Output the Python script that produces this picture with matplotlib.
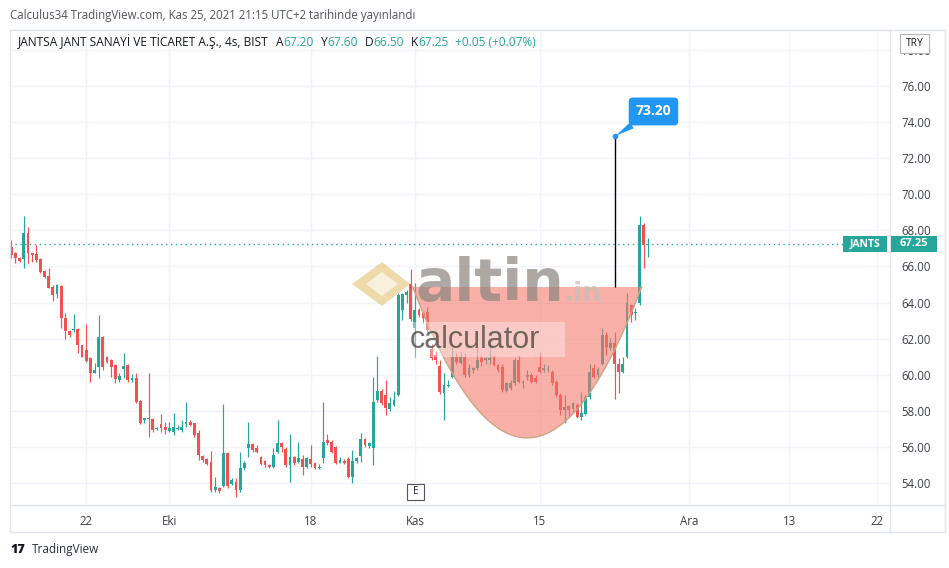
import numpy as np
import matplotlib.pyplot as plt
from matplotlib.patches import Rectangle, Polygon

plt.rcParams['font.family'] = ['Open Sans', 'DejaVu Sans']

W, H = 949, 568

# =========================
# DATA - JANTS 4s mumlar
# =========================
acilis = [67.09, 66.72, 66.48, 66.39, 67.83, 66.72, 66.67, 66.39, 65.74, 65.48,
          64.87, 64.45, 64.91, 63.12, 62.42, 62.46, 62.53, 61.64, 61.36, 60.94,
          60.12, 60.44, 62.10, 60.99, 60.81, 60.53, 59.70, 60.31, 60.53, 59.70,
          59.80, 58.56, 57.50, 57.60, 57.53, 56.98, 57.27, 57.12, 56.90, 56.85,
          57.00, 56.94, 57.25, 57.40, 57.31, 56.75, 55.50, 55.31, 55.18, 53.62,
          53.74, 53.84, 55.65, 53.95, 54.08, 53.62, 54.82, 55.92, 56.16, 55.92,
          55.46, 55.24, 55.00, 54.87, 55.74, 56.20, 55.86, 55.00, 55.42, 55.18,
          55.31, 54.90, 55.31, 55.09, 54.81, 55.36, 56.38, 56.29, 56.01, 55.13,
          55.24, 55.31, 54.35, 55.24, 55.50, 56.42, 56.05, 55.92, 58.60, 59.11,
          58.87, 58.08, 58.32, 58.87, 63.60, 64.41, 65.00, 62.56, 63.58, 63.40,
          63.49, 61.40, 61.10, 60.50, 58.96, 59.37, 59.89, 61.00, 60.66, 60.96,
          59.98, 60.26, 60.35, 60.90, 60.81, 60.81, 61.00, 60.53, 60.44, 59.11,
          59.24, 59.52, 60.81, 59.52, 59.85, 59.98, 59.79, 60.44, 60.26, 60.26,
          60.16, 59.61, 58.87, 58.04, 58.26, 58.08, 58.31, 57.63, 57.85, 58.78,
          60.35, 59.98, 60.62, 62.20, 61.46, 61.73, 60.62, 60.16, 60.99, 63.86,
          63.40, 63.95, 68.29, 67.20]
yuksek = [67.46, 66.80, 66.54, 68.79, 68.20, 66.72, 67.18, 66.45, 65.80, 65.93,
          64.97, 65.00, 64.97, 63.40, 62.47, 63.34, 62.57, 61.64, 62.81, 60.99,
          60.63, 63.30, 62.16, 61.05, 60.87, 60.57, 60.07, 61.18, 60.57, 60.02,
          60.09, 58.60, 57.60, 60.09, 57.60, 57.12, 57.81, 57.40, 57.40, 57.86,
          57.20, 57.49, 58.51, 57.49, 57.35, 56.94, 55.55, 55.37, 55.79, 54.35,
          53.80, 58.36, 55.74, 54.26, 54.26, 55.74, 55.24, 57.40, 56.24, 56.11,
          55.50, 55.28, 55.05, 55.92, 57.49, 56.29, 56.01, 56.71, 55.50, 56.29,
          55.55, 55.46, 56.10, 55.18, 55.05, 58.50, 56.71, 56.38, 56.05, 55.42,
          55.31, 55.46, 55.83, 55.46, 56.75, 56.47, 56.29, 59.90, 61.03, 59.18,
          59.70, 58.78, 59.11, 64.51, 64.50, 64.69, 65.85, 65.06, 63.67, 63.49,
          63.76, 61.70, 61.30, 60.80, 60.07, 59.70, 61.51, 61.18, 61.27, 61.18,
          60.62, 60.44, 61.46, 61.09, 61.00, 61.83, 61.09, 60.62, 60.62, 59.61,
          59.70, 60.90, 61.09, 59.70, 60.26, 60.07, 59.98, 61.27, 60.62, 60.53,
          60.26, 59.70, 59.00, 58.87, 58.31, 58.50, 58.41, 59.05, 58.87, 60.62,
          60.62, 60.44, 62.56, 62.38, 62.01, 62.38, 60.90, 60.99, 64.50, 63.91,
          63.67, 68.79, 68.38, 67.60]
dusuk = [66.45, 66.20, 66.26, 65.93, 66.17, 66.26, 66.26, 65.65, 65.37, 64.78,
         64.08, 64.27, 62.60, 62.00, 62.10, 62.38, 61.18, 60.96, 60.72, 59.61,
         60.07, 59.80, 60.26, 60.63, 59.89, 59.52, 59.61, 59.80, 59.61, 59.61,
         58.45, 57.27, 57.31, 56.57, 56.85, 56.94, 56.85, 56.70, 56.85, 56.66,
         56.94, 56.85, 57.12, 57.16, 56.57, 55.28, 55.18, 55.00, 53.52, 53.52,
         53.47, 53.77, 53.71, 53.89, 53.25, 53.52, 54.72, 55.46, 55.74, 55.65,
         55.00, 54.90, 54.81, 54.81, 55.64, 55.74, 54.90, 54.07, 55.00, 55.13,
         54.44, 54.81, 54.90, 54.76, 54.76, 55.09, 56.10, 55.64, 55.05, 55.09,
         55.05, 54.26, 53.98, 55.09, 55.18, 56.01, 55.92, 55.00, 58.50, 58.32,
         57.77, 58.00, 58.27, 58.80, 63.05, 63.95, 62.95, 61.00, 63.21, 62.84,
         62.38, 60.80, 60.60, 58.95, 57.50, 59.33, 59.79, 60.62, 60.62, 59.89,
         59.89, 60.07, 60.26, 60.48, 60.62, 60.62, 60.48, 60.16, 59.05, 59.05,
         59.15, 59.42, 59.52, 59.24, 59.70, 59.52, 59.52, 60.07, 60.16, 60.16,
         59.42, 58.78, 57.76, 57.30, 57.67, 57.95, 57.58, 57.48, 57.76, 58.68,
         59.79, 59.88, 60.53, 61.09, 61.36, 58.68, 58.96, 60.07, 60.90, 62.93,
         63.03, 63.86, 65.89, 66.50]
kapanis = [66.63, 66.45, 66.30, 67.83, 66.72, 66.63, 66.35, 65.71, 65.43, 64.82,
           64.41, 64.97, 63.12, 62.42, 62.20, 62.53, 61.64, 60.99, 60.76, 60.07,
           60.26, 62.10, 60.44, 60.72, 60.44, 59.76, 59.94, 60.49, 59.70, 59.83,
           58.51, 57.31, 57.58, 57.54, 56.94, 57.03, 57.03, 56.94, 57.07, 57.12,
           57.03, 57.12, 57.40, 57.22, 56.66, 55.55, 55.28, 55.06, 53.62, 53.77,
           53.58, 55.65, 53.84, 54.14, 53.62, 54.82, 55.13, 56.16, 55.83, 55.74,
           55.06, 55.00, 54.87, 55.55, 56.20, 56.01, 55.00, 55.42, 55.13, 55.36,
           54.90, 55.36, 55.05, 54.81, 54.87, 56.29, 56.20, 55.74, 55.13, 55.27,
           55.13, 54.35, 55.24, 55.36, 56.42, 56.10, 56.20, 58.50, 59.11, 58.41,
           58.13, 58.41, 58.60, 64.42, 64.45, 64.60, 63.10, 63.58, 63.30, 63.12,
           62.47, 60.90, 60.80, 59.05, 59.42, 59.42, 61.00, 60.72, 60.96, 59.98,
           60.35, 60.35, 60.81, 60.72, 60.90, 60.90, 60.53, 60.26, 59.15, 59.52,
           59.55, 60.81, 59.61, 59.61, 59.98, 59.61, 59.61, 60.16, 60.35, 60.31,
           59.52, 58.87, 58.04, 58.22, 58.04, 58.44, 57.67, 57.89, 58.78, 60.16,
           59.88, 60.29, 62.20, 61.55, 61.77, 60.62, 60.16, 60.62, 63.95, 63.30,
           63.49, 68.29, 67.18, 67.25]

tarih_etiket = ["22", "Eki", "18", "Kas", "15", "Ara", "13", "22"]
tarih_bar = [18, 38, 72, 97, 127, 163, 187, 208]
fiyat_seviye = [54, 56, 58, 60, 62, 64, 66, 68, 70, 72, 74, 76, 78]

son_fiyat = 67.25
isaret_fiyat = 73.20
isaret_bar = 145
fincan_sol, fincan_sag = 96.5, 151.5
fincan_ust, fincan_dip = 64.86, 56.5

YESIL = '#26a69a'
KIRMIZI = '#ef5350'
CERCEVE = '#e0e3eb'
IZGARA = '#f0f3fa'
YAZI = '#131722'


def fx(x):
    return x / W


def fy(y):
    return 1 - y / H


def kutu(x0, y0, x1, y1, fc, ec='none', lw=0, z=5):
    fig.add_artist(Rectangle((fx(x0), fy(y1)), (x1 - x0) / W, (y1 - y0) / H,
                             transform=fig.transFigure, fc=fc, ec=ec, lw=lw, zorder=z))


def cizgi(x0, y0, x1, y1, c=CERCEVE):
    fig.add_artist(plt.Line2D([fx(x0), fx(x1)], [fy(y0), fy(y1)],
                              transform=fig.transFigure, color=c, lw=1, zorder=1))


fig = plt.figure(figsize=(W / 100, H / 100), dpi=100)
fig.patch.set_facecolor('white')

ax = fig.add_axes([fx(10), fy(505), 880 / W, 475 / H])
ax.set_xlim(-0.31, 211.2)
ax.set_ylim(52.78, 79.10)
for s in ax.spines.values():
    s.set_visible(False)

ax.set_xticks(tarih_bar)
ax.set_xticklabels(tarih_etiket)
ax.set_yticks(fiyat_seviye)
ax.set_yticklabels([f"{v:.2f}" for v in fiyat_seviye])
ax.yaxis.tick_right()
ax.tick_params(axis='y', length=0, pad=8, labelsize=8.3, labelcolor='#3b3e48')
ax.tick_params(axis='x', length=0, pad=7, labelsize=8.3, labelcolor='#3b3e48')
ax.grid(color=IZGARA, lw=1, zorder=0)
ax.set_axisbelow(True)

# =========================
# MUMLAR
# =========================
o = np.array(acilis)
h = np.array(yuksek)
l = np.array(dusuk)
c = np.array(kapanis)
idx = np.arange(len(o))
renk = np.where(c >= o, YESIL, KIRMIZI)

ax.vlines(idx, l, h, colors=renk, lw=0.85, zorder=2)
govde = np.maximum(np.abs(c - o), 0.06)
ax.bar(idx, govde, bottom=np.minimum(o, c), width=0.68, color=renk, lw=0, zorder=2)

# son fiyat cizgisi
ax.axhline(son_fiyat, color=YESIL, lw=1, ls=(0, (1, 2.5)), zorder=2)

# =========================
# FINCAN (cup) cizimi
# =========================
t = np.linspace(0, 1, 120)
ctrl = 2 * fincan_dip - fincan_ust
bx = (1 - t) ** 2 * fincan_sol + 2 * (1 - t) * t * (fincan_sol + fincan_sag) / 2 + t ** 2 * fincan_sag
by = (1 - t) ** 2 * fincan_ust + 2 * (1 - t) * t * ctrl + t ** 2 * fincan_ust
ax.add_patch(Polygon(np.column_stack([bx, by]), closed=True, fc='#f4776c', ec='none',
                     alpha=0.58, zorder=3))
ax.plot(bx, by, color='#c9a583', lw=1, zorder=3)

# isaret cizgisi + etiket
ax.vlines(isaret_bar, fincan_ust, isaret_fiyat, color='black', lw=1, zorder=4)
ax.plot([isaret_bar], [isaret_fiyat], 'o', ms=3, color='#2196f3', zorder=6)
ax.annotate(f"{isaret_fiyat:.2f}", xy=(isaret_bar, isaret_fiyat), xytext=(28, 18),
            textcoords='offset points', ha='center', va='center', color='white',
            fontsize=10, fontweight='bold', zorder=7,
            bbox=dict(boxstyle='round,pad=0.5,rounding_size=0.3', fc='#2196f3', ec='none'),
            arrowprops=dict(arrowstyle='wedge,tail_width=0.5', fc='#2196f3', ec='none',
                            shrinkA=0, shrinkB=1))

# =========================
# FILIGRAN (altin.in)
# =========================
fig.text(fx(416), fy(284), "altin", fontsize=42, fontweight='bold', color='#8a847d',
         alpha=0.7, va='center', ha='left', family='DejaVu Sans', zorder=8)
fig.text(fx(563), fy(294), ".in", fontsize=19, fontweight='bold', color='#c4bfb8',
         alpha=0.7, va='center', ha='left', family='DejaVu Sans', zorder=8)
kutu(405, 322, 565, 357, fc=(1, 1, 1, 0.35), z=8)
fig.text(fx(410), fy(340), "calculator", fontsize=22, color='#4f4a46', alpha=0.8,
         va='center', ha='left', family='Liberation Sans', zorder=9)
logo1 = [(352, 284), (382, 262), (410, 284), (382, 306)]
logo2 = [(366, 284), (382, 272), (398, 284), (382, 296)]
fig.add_artist(Polygon([(fx(a), fy(b)) for a, b in logo1], closed=True, transform=fig.transFigure,
                       fc='#e7c77e', alpha=0.65, ec='none', zorder=8))
fig.add_artist(Polygon([(fx(a), fy(b)) for a, b in logo2], closed=True, transform=fig.transFigure,
                       fc='white', alpha=0.6, ec='none', zorder=8))

# =========================
# CERCEVE + ETIKETLER
# =========================
cizgi(10, 30, 945, 30)
cizgi(10, 532, 945, 532)
cizgi(10, 30, 10, 532)
cizgi(945, 30, 945, 532)
cizgi(890, 30, 890, 532)
cizgi(10, 505, 945, 505)

kutu(843, 236, 887, 252, YESIL)
fig.text(fx(865), fy(244), "JANTS", color='white', fontsize=7.5, fontweight='bold',
         ha='center', va='center', zorder=9)
kutu(891, 236, 937, 252, YESIL)
fig.text(fx(914), fy(244), f"{son_fiyat:.2f}", color='white', fontsize=8, fontweight='bold',
         ha='center', va='center', zorder=9)

kutu(900, 34, 929, 53, 'white', ec='#b2b5be', lw=0.8)
fig.text(fx(914.5), fy(43.5), "TRY", color=YAZI, fontsize=7.5, ha='center', va='center', zorder=9)

kutu(407, 484, 424, 500, 'white', ec='#50535e', lw=0.8)
fig.text(fx(415.5), fy(492), "E", color=YAZI, fontsize=7, ha='center', va='center', zorder=9)

fig.text(fx(10), fy(15), "Calculus34 TradingView.com, Kas 25, 2021 21:15 UTC+2 tarihinde yayınlandı",
         color='#50535e', fontsize=8.3, va='center')

# legend satiri
fig.canvas.draw()
r = fig.canvas.get_renderer()
parcalar = [("JANTSA JANT SANAYİ VE TİCARET A.Ş., 4s, BIST", YAZI, 7),
            ("A", YAZI, 0), ("67.20", YESIL, 7),
            ("Y", YAZI, 0), ("67.60", YESIL, 7),
            ("D", YAZI, 0), ("66.50", YESIL, 7),
            ("K", YAZI, 0), ("67.25", YESIL, 7),
            ("+0.05 (+0.07%)", YESIL, 0)]
x = 18
for txt, col, bosluk in parcalar:
    tt = fig.text(fx(x), fy(42), txt, color=col, fontsize=8.6, va='center')
    bb = tt.get_window_extent(renderer=r)
    x = bb.x1 + bosluk

fig.text(fx(10), fy(550), "17", color=YAZI, fontsize=9, fontweight='heavy', va='center')
fig.text(fx(32), fy(550), "TradingView", color='#2a2e39', fontsize=8.5, va='center')

plt.savefig("out.png", dpi=100)
plt.close()
